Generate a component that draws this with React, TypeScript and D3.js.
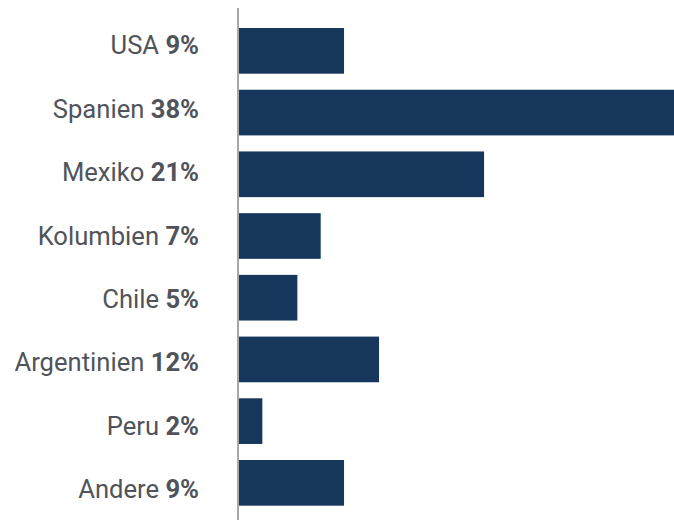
import React from "react";
import * as d3 from "d3";

const categories = ["USA", "Spanien", "Mexiko", "Kolumbien", "Chile", "Argentinien", "Peru", "Andere"];
const values = [9, 38, 21, 7, 5, 12, 2, 9];

const W = 674;
const H = 520;

export default function App() {
  const x = d3.scaleLinear().domain([0, 10]).range([239, 239 + 116.7]);
  const yBar = d3.scaleBand<string>().domain(categories).range([20, 513.7]).paddingInner(0.26).paddingOuter(0.13);
  const yLab = d3.scalePoint<string>().domain(categories).range([45.4, 489.2]);
  return (
    <svg width={W} height={H} style={{ position: "absolute", left: 0, top: 0 }} fontFamily="Roboto, sans-serif">
      {categories.map((c, i) => (
        <rect key={c} x={x(0)} y={yBar(c)} width={x(values[i]) - x(0)} height={yBar.bandwidth()} fill="#17365b" />
      ))}
      <line x1={238} x2={238} y1={8} y2={H} stroke="#8a8a8a" strokeWidth={1.5} />
      {categories.map((c, i) => (
        <text key={c} x={199} y={(yLab(c) as number) + 9} textAnchor="end" fontSize={25.6} fill="#50545a">
          {c} <tspan fontWeight="bold">{values[i]}%</tspan>
        </text>
      ))}
    </svg>
  );
}
